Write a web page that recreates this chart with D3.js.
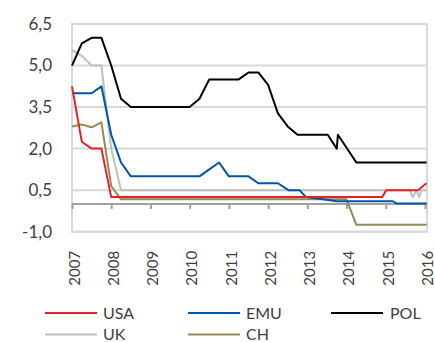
<!DOCTYPE html>
<html><head><meta charset="utf-8">
<script src="https://cdn.jsdelivr.net/npm/d3@7"></script>
<style>body{margin:0;background:#fff}svg{display:block}text{font-family:Lato,"Open Sans",sans-serif;fill:#404040}</style>
</head><body>
<svg id="c" width="435" height="342"></svg>
<script>
const years = [2007,2008,2009,2010,2011,2012,2013,2014,2015,2016];
const yTicks = [-1,0.5,2,3.5,5,6.5];
const seriesNames = ["USA","EMU","POL","UK","CH"];
const seriesColors = ["#e5202a","#0055a5","#000000","#bfbfbf","#948a54"];
const usa = [[2007,4.25],[2007.25,2.25],[2007.5,2.0],[2007.75,2.0],[2008,0.25],[2014.91,0.25],[2015.01,0.5],[2015.82,0.5],[2016.04,0.75]];
const emu = [[2007,4.0],[2007.5,4.0],[2007.75,4.25],[2008,2.5],[2008.25,1.5],[2008.5,1.0],[2010.25,1.0],[2010.5,1.25],[2010.75,1.5],[2011,1.0],[2011.5,1.0],[2011.75,0.75],[2012.25,0.75],[2012.52,0.5],[2012.8,0.5],[2012.97,0.25],[2013.4,0.17],[2013.74,0.1],[2015.18,0.1],[2015.27,0.02],[2016.04,0.02]];
const pol = [[2007,5.0],[2007.25,5.8],[2007.5,6.0],[2007.75,6.0],[2008,5.0],[2008.25,3.8],[2008.5,3.5],[2010,3.5],[2010.25,3.8],[2010.5,4.5],[2011.25,4.5],[2011.5,4.75],[2011.75,4.75],[2012,4.3],[2012.25,3.27],[2012.5,2.8],[2012.75,2.5],[2013.52,2.5],[2013.75,2.0],[2013.78,2.5],[2014.25,1.5],[2016.04,1.5]];
const uk = [[2007,5.55],[2007.25,5.35],[2007.5,5.0],[2007.75,5.0],[2008,2.0],[2008.25,0.5],[2015.61,0.5],[2015.69,0.25],[2015.78,0.5],[2015.85,0.25],[2015.91,0.5],[2016.04,0.5]];
const ch = [[2007,2.8],[2007.25,2.87],[2007.5,2.77],[2007.75,2.95],[2008,0.65],[2008.25,0.17],[2014,0.17],[2014.25,-0.75],[2016.04,-0.75]];
const seriesData = [usa,emu,pol,uk,ch];
const drawOrder = [3,4,1,2,0];

const svg = d3.select("#c");
const L = 72, R = 427, T = 24, B = 231.7;
const x = d3.scaleLinear().domain([2007,2016]).range([72,425]);
const y = d3.scaleLinear().domain([-1,6.5]).range([B,T]);
const fmt = d3.formatLocale({decimal:",",thousands:" ",grouping:[3],currency:["",""],minus:"-"}).format(".1f");

// gridlines
svg.append("g").selectAll("line").data(yTicks).join("line")
  .attr("x1",L).attr("x2",R).attr("y1",d=>y(d)).attr("y2",d=>y(d))
  .attr("stroke","#d9d9d9").attr("stroke-width",2);
svg.append("rect").attr("x",L).attr("y",T).attr("width",R-L).attr("height",B-T)
  .attr("fill","none").attr("stroke","#d9d9d9").attr("stroke-width",2);

// zero axis with ticks
const xAxis = svg.append("g").attr("transform",`translate(0,${y(0)})`)
  .call(d3.axisBottom(x).tickValues(years).tickSize(5).tickSizeOuter(0).tickFormat(""));
xAxis.select(".domain").attr("stroke","#a0a0a0").attr("stroke-width",2).attr("d",`M${L},0H${R}`);
xAxis.selectAll(".tick line").attr("stroke","#a0a0a0").attr("stroke-width",2);

// x labels rotated
const xl = svg.append("g").attr("transform",`translate(0,${B})`)
  .call(d3.axisBottom(x).tickValues(years).tickSize(0).tickFormat(d3.format("d")));
xl.select(".domain").remove();
xl.selectAll(".tick text").attr("font-size",15).attr("fill","#404040")
  .attr("text-anchor","start").attr("transform","rotate(-90)")
  .attr("x",-54).attr("y",2).attr("dy","0.35em").attr("dx",0);

// y labels
const yl = svg.append("g").attr("transform",`translate(52,0)`)
  .call(d3.axisLeft(y).tickValues(yTicks).tickSize(0).tickFormat(fmt));
yl.select(".domain").remove();
yl.selectAll(".tick text").attr("font-size",17).attr("fill","#404040").attr("x",0);

// lines
const line = d3.line().x(d=>x(d[0])).y(d=>y(d[1]));
svg.append("g").selectAll("path").data(drawOrder).join("path")
  .attr("d",i=>line(seriesData[i])).attr("fill","none")
  .attr("stroke",i=>seriesColors[i]).attr("stroke-width",2)
  .attr("stroke-linejoin","round");

// legend
const legX = [45,188,331], legY = [313,334.5];
const lg = svg.append("g").selectAll("g").data(seriesNames).join("g")
  .attr("transform",(d,i)=>`translate(${legX[i%3]},${legY[Math.floor(i/3)]})`);
lg.append("line").attr("x1",0).attr("x2",52).attr("y1",0).attr("y2",0)
  .attr("stroke",(d,i)=>seriesColors[i]).attr("stroke-width",2);
lg.append("text").attr("x",(d,i)=> i%3===2 ? 59 : 58).attr("dy","0.36em")
  .attr("font-size",16).text(d=>d);
</script>
</body></html>
